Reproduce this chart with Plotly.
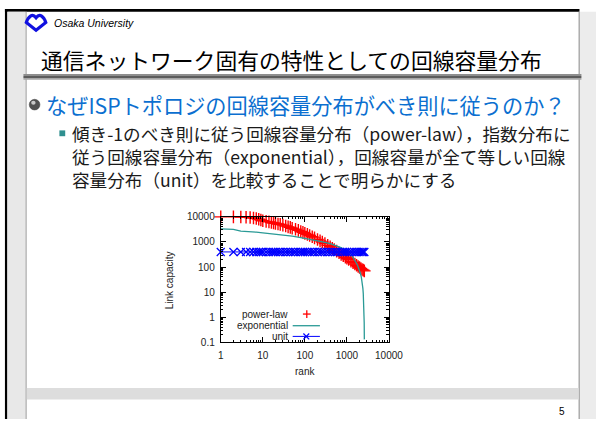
import plotly.graph_objects as go

W, H = 610, 425

# ---------------- data ----------------
pl_rank = [1, 2, 3, 4, 5, 6, 7, 8, 9, 10, 12, 14, 16, 18, 20, 23, 26, 30, 35, 40, 45, 50,
           60, 70, 80, 90, 100, 115, 130, 150, 170, 200, 230, 260, 300, 350, 400, 450, 500,
           570, 650, 730, 820, 920, 1000, 1100, 1250, 1400, 1550, 1700, 1850, 2000, 2150,
           2300, 2450, 2600]
pl_cap = [10000, 10000, 9900, 9700, 9400, 9000, 8600, 8000, 7500, 7000, 6600, 6300, 6000,
          5700, 5500, 5200, 5000, 4700, 4300, 4000, 3800, 3500, 3200, 2900, 2600, 2400,
          2200, 2000, 1800, 1600, 1450, 1250, 1100, 1000, 870, 740, 640, 560, 500, 430,
          370, 320, 280, 245, 225, 200, 170, 150, 132, 118, 105, 95, 87, 80, 75, 70]

ex_rank = [1, 2, 3, 4, 5, 7, 10, 20, 33, 50, 93, 150, 265, 400, 530, 700, 900, 1100, 1300,
           1500, 1650, 1800, 1950, 2100, 2200, 2300, 2400, 2450, 2500, 2550, 2580, 2600]
ex_cap = [3300, 3200, 2700, 2650, 2600, 2450, 2300, 2050, 1880, 1700, 1430, 1250, 1000,
          850, 740, 610, 500, 400, 294, 210, 152, 115, 83, 55, 40, 26, 14, 8.9, 4.5, 1.8,
          0.6, 0.13]

un_rank = [1, 2, 3, 4, 5, 6, 7, 8, 9, 10, 12, 14, 16, 18, 20, 23, 26, 30, 35, 40, 46, 53,
           60, 70, 80, 90, 100, 115, 130, 150, 170, 200, 230, 260, 300, 350, 400, 460, 530,
           600, 700, 800, 900, 1000, 1150, 1300, 1500, 1700, 1900, 2100, 2300, 2450, 2600]
un_cap = [400, 400, 400, 400, 400, 400, 400, 400, 400, 400, 400, 400, 400, 400, 400, 400,
          400, 400, 400, 400, 400, 400, 400, 400, 400, 400, 400, 400, 400, 400, 400, 400,
          400, 400, 400, 400, 400, 400, 400, 400, 400, 400, 400, 400, 400, 400, 400, 400,
          400, 400, 400, 400, 400]

x_tickvals = [1, 10, 100, 1000, 10000]
x_ticktext = ["1", "10", "100", "1000", "10000"]
y_tickvals = [0.1, 1, 10, 100, 1000, 10000]
y_ticktext = ["0.1", "1", "10", "100", "1000", "10000"]

series_names = ["power-law", "exponential", "unit"]

title_text = "通信ネットワーク固有の特性としての回線容量分布"
bullet_text = "なぜISPトポロジの回線容量分布がべき則に従うのか？"
sub_lines = ["傾き-1のべき則に従う回線容量分布（power-law），指数分布に",
             "従う回線容量分布（exponential），回線容量が全て等しい回線",
             "容量分布（unit）を比較することで明らかにする"]

# ---------------- helpers ----------------
def fx(x):
    return x / W

def fy(y):
    return 1 - y / H

shapes = []
annotations = []

def rect(x0, y0, x1, y1, color):
    shapes.append(dict(type="rect", xref="paper", yref="paper", x0=fx(x0), x1=fx(x1),
                       y0=fy(y1), y1=fy(y0), fillcolor=color, line=dict(width=0),
                       layer="below"))

def seg(x0, y0, x1, y1, color, width=1):
    shapes.append(dict(type="line", xref="paper", yref="paper", x0=fx(x0), x1=fx(x1),
                       y0=fy(y0), y1=fy(y1), line=dict(color=color, width=width),
                       layer="above"))

def text(x, y, s, size, color="black", family="Noto Sans CJK JP", xanchor="left",
         angle=0, italic=False):
    annotations.append(dict(xref="paper", yref="paper", x=fx(x), y=fy(y), text=s,
                            showarrow=False, xanchor=xanchor, yanchor="middle",
                            textangle=angle,
                            font=dict(size=size, color=color, family=family,
                                      style="italic" if italic else "normal")))

# ---------------- slide decoration ----------------
rect(2, 3, 593, 6, "black")
rect(2, 3, 4.5, 425, "black")
rect(4.5, 6, 23, 425, "#e8e8e8")
rect(23, 6, 24.5, 425, "#b4b4b4")
rect(592, 6, 593.5, 425, "#a8a8a8")
rect(593.5, 6, 610, 425, "#ececec")
rect(24.5, 393, 592, 405, "#dddddd")
rect(21, 70, 595, 72, "#8e8e8e")
rect(21, 72, 595, 74, "#5c5c5c")
rect(21, 74, 595, 76, "#a6a6a6")

# logo
logo = (f"M {fx(24)},{fy(17)} C {fx(26)},{fy(11)} {fx(30)},{fy(7)} {fx(34)},{fy(12)} "
        f"C {fx(38)},{fy(7)} {fx(42)},{fy(11)} {fx(44)},{fy(17)} "
        f"L {fx(34)},{fy(25)} Z")
shapes.append(dict(type="path", xref="paper", yref="paper", path=logo,
                   line=dict(color="#1010e0", width=3.2), fillcolor="rgba(0,0,0,0)"))
text(50, 17, "Osaka University", 10.5, "black", "Liberation Sans", italic=True)

text(37, 55, title_text, 21.8, "black")

# main bullet (sphere)
shapes.append(dict(type="circle", xref="paper", yref="paper", x0=fx(27), x1=fx(38),
                   y0=fy(107), y1=fy(96), fillcolor="#505050", line=dict(color="#404040", width=0.5)))
shapes.append(dict(type="circle", xref="paper", yref="paper", x0=fx(29), x1=fx(33.5),
                   y0=fy(101.5), y1=fy(97.5), fillcolor="#c8c8c8", line=dict(width=0)))
text(42, 101, bullet_text, 21.2, "#0b6fd0")

# sub bullet square
rect(58, 128, 64, 134, "#2f8f8f")
for i, s in enumerate(sub_lines):
    text(69, 131 + i * 23.6, s, 17.6, "#1a1a1a")

text(575, 417, "5", 10, "black", "Liberation Sans", xanchor="center")

# ---------------- chart ----------------
CF = "Liberation Sans"
fig = go.Figure()
fig.add_trace(go.Scatter(x=pl_rank, y=pl_cap, mode="markers", name=series_names[0],
                         cliponaxis=False,
                         marker=dict(symbol="cross-thin", size=9, color="#ff0000",
                                     line=dict(color="#ff0000", width=1.4))))
fig.add_trace(go.Scatter(x=ex_rank, y=ex_cap, mode="lines", name=series_names[1],
                         line=dict(color="#2a9a96", width=1.3)))
fig.add_trace(go.Scatter(x=un_rank, y=un_cap, mode="lines+markers", name=series_names[2],
                         cliponaxis=False,
                         line=dict(color="#0000ff", width=1),
                         marker=dict(symbol="x-thin", size=8, color="#0000ff",
                                     line=dict(color="#0000ff", width=1.3))))

x_minor = [m * 10 ** d for d in range(0, 4) for m in range(2, 10)]
y_minor = [m * 10 ** d for d in range(-1, 4) for m in range(2, 10)]

axis_common = dict(type="log", showgrid=False, zeroline=False, showline=True,
                   linecolor="black", linewidth=1, mirror="allticks", ticks="inside",
                   ticklen=5, tickcolor="black", tickwidth=1,
                   tickfont=dict(family=CF, size=10, color="#222222"))

PL, PR, PT, PB = 224, 397, 217, 346

fig.update_layout(
    width=W, height=H, margin=dict(l=0, r=0, t=0, b=0),
    paper_bgcolor="white", plot_bgcolor="white", showlegend=False,
    xaxis=dict(domain=[fx(PL), fx(PR)], range=[0, 4], tickmode="array",
               tickvals=x_tickvals, ticktext=x_ticktext, ticklabelstandoff=4,
               minor=dict(tickmode="array", tickvals=x_minor, ticks="inside", ticklen=2.5,
                          tickcolor="black", showgrid=False),
               **axis_common),
    yaxis=dict(domain=[fy(PB), fy(PT)], range=[-1, 4], tickmode="array",
               tickvals=y_tickvals, ticktext=y_ticktext, ticklabelstandoff=3,
               minor=dict(tickmode="array", tickvals=y_minor, ticks="inside", ticklen=2.5,
                          tickcolor="black", showgrid=False),
               **axis_common),
)

# axis titles
text((PL + PR) / 2, 376, "rank", 10, "#222222", CF, xanchor="center")
text(171, 282, "Link capacity", 10, "#222222", CF, xanchor="center", angle=-90)

# legend (gnuplot style: label left, sample right)
leg_y = [317, 329, 340]
for name, yy in zip(series_names, leg_y):
    text(295.5, yy, name, 10, "#222222", CF, xanchor="right")
seg(308.5, 317, 316.5, 317, "#ff0000", 1.3)
seg(312.5, 313, 312.5, 321, "#ff0000", 1.3)
seg(298, 329, 326, 329, "#2a9a96", 1.3)
seg(298, 340, 326, 340, "#0000ff", 1)
seg(309, 337, 315, 343, "#0000ff", 1.2)
seg(309, 343, 315, 337, "#0000ff", 1.2)

fig.update_layout(shapes=shapes, annotations=annotations)
fig.write_html("out.html", config={"displayModeBar": False},
               post_script="document.body.style.margin='0px';document.body.style.overflow='hidden';")
